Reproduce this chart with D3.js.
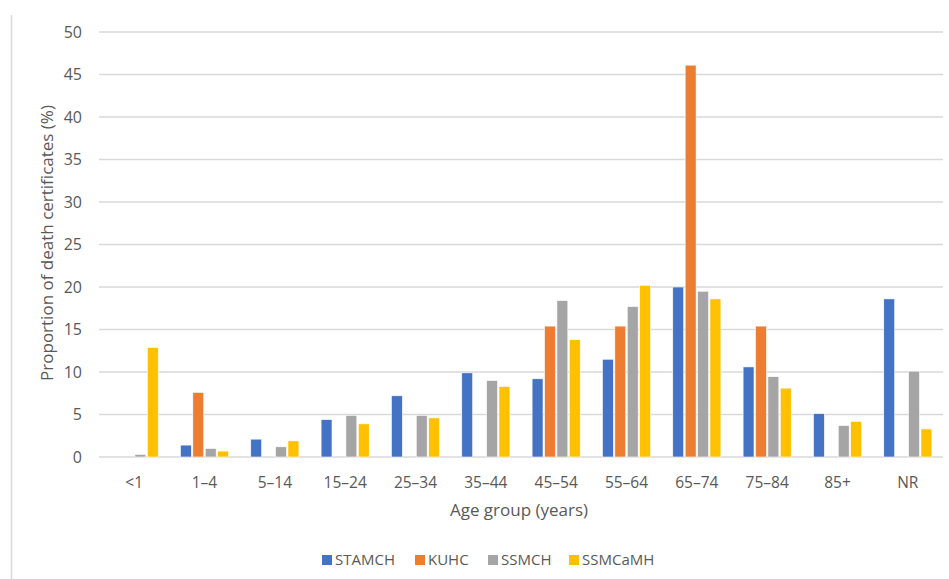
<!DOCTYPE html>
<html><head><meta charset="utf-8">
<script src="https://cdn.jsdelivr.net/npm/d3@7"></script>
<style>body{margin:0;background:#fff;} svg{display:block;font-family:"Open Sans",sans-serif;}</style>
</head><body><svg id="c" width="949" height="579"></svg>
<script>
const categories = ["<1","1–4","5–14","15–24","25–34","35–44","45–54","55–64","65–74","75–84","85+","NR"];
const seriesNames = ["STAMCH","KUHC","SSMCH","SSMCaMH"];
const STAMCH  = [0, 1.4, 2.1, 4.4, 7.2, 9.9, 9.2, 11.5, 20.0, 10.6, 5.1, 18.6];
const KUHC    = [0, 7.6, 0, 0, 0, 0, 15.4, 15.4, 46.1, 15.4, 0, 0];
const SSMCH   = [0.3, 1.0, 1.2, 4.9, 4.9, 9.0, 18.4, 17.7, 19.5, 9.45, 3.7, 10.1];
const SSMCaMH = [12.9, 0.7, 1.9, 3.9, 4.6, 8.3, 13.8, 20.2, 18.6, 8.1, 4.2, 3.3];
const yTicks = [0,5,10,15,20,25,30,35,40,45,50];
const colors = ["#4472c4","#ed7d31","#a5a5a5","#ffc000"];
const seriesValues = [STAMCH, KUHC, SSMCH, SSMCaMH];

const svg = d3.select("#c");
const pLeft = 99, pRight = 943, pTop = 32, pBottom = 457;
const x = d3.scaleBand().domain(categories).range([pLeft, pRight]).paddingInner(0.3157).paddingOuter(0.1578);
const xs = d3.scaleBand().domain(seriesNames).range([0, x.bandwidth()]).paddingInner(0.12);
const y = d3.scaleLinear().domain([0,50]).range([pBottom, pTop]);

// left border
svg.append("line").attr("x1",11.5).attr("x2",11.5).attr("y1",15).attr("y2",579).attr("stroke","#d9d9d9").attr("stroke-width",1.5);

// gridlines
svg.append("g").selectAll("line").data(yTicks).join("line")
  .attr("x1",pLeft).attr("x2",pRight).attr("y1",d=>y(d)).attr("y2",d=>y(d))
  .attr("stroke","#d9d9d9").attr("stroke-width",1.3);

// y tick labels
svg.append("g").selectAll("text").data(yTicks).join("text")
  .attr("x",82).attr("y",d=>y(d)).attr("dy","0.35em").attr("text-anchor","end")
  .attr("font-size",16).attr("fill","#595959").text(d=>d);

// bars
seriesNames.forEach((s,i)=>{
  svg.append("g").selectAll("rect").data(categories).join("rect")
    .attr("x",c=>x(c)+xs(s)).attr("width",xs.bandwidth())
    .attr("y",(c,j)=>y(seriesValues[i][j])).attr("height",(c,j)=>y(0)-y(seriesValues[i][j]))
    .attr("fill",colors[i]).attr("stroke","#fff").attr("stroke-width",0.6);
});

// x tick labels
svg.append("g").selectAll("text").data(categories).join("text")
  .attr("x",c=>x(c)+x.bandwidth()/2).attr("y",488).attr("text-anchor","middle")
  .attr("font-size",15.5).attr("fill","#595959").text(c=>c);

// axis titles
svg.append("text").attr("x",519).attr("y",516).attr("text-anchor","middle")
  .attr("font-size",17).attr("fill","#595959").text("Age group (years)");
svg.append("text").attr("transform","translate(53,243) rotate(-90)").attr("text-anchor","middle")
  .attr("font-size",17).attr("fill","#595959").text("Proportion of death certificates (%)");

// legend
const legX = [322, 415, 488, 569];
const lg = svg.append("g");
seriesNames.forEach((s,i)=>{
  lg.append("rect").attr("x",legX[i]).attr("y",555).attr("width",10).attr("height",10).attr("fill",colors[i]);
  lg.append("text").attr("x",legX[i]+13).attr("y",560).attr("dy","0.35em").attr("font-size",15).attr("fill","#595959").text(s);
});
</script></body></html>
